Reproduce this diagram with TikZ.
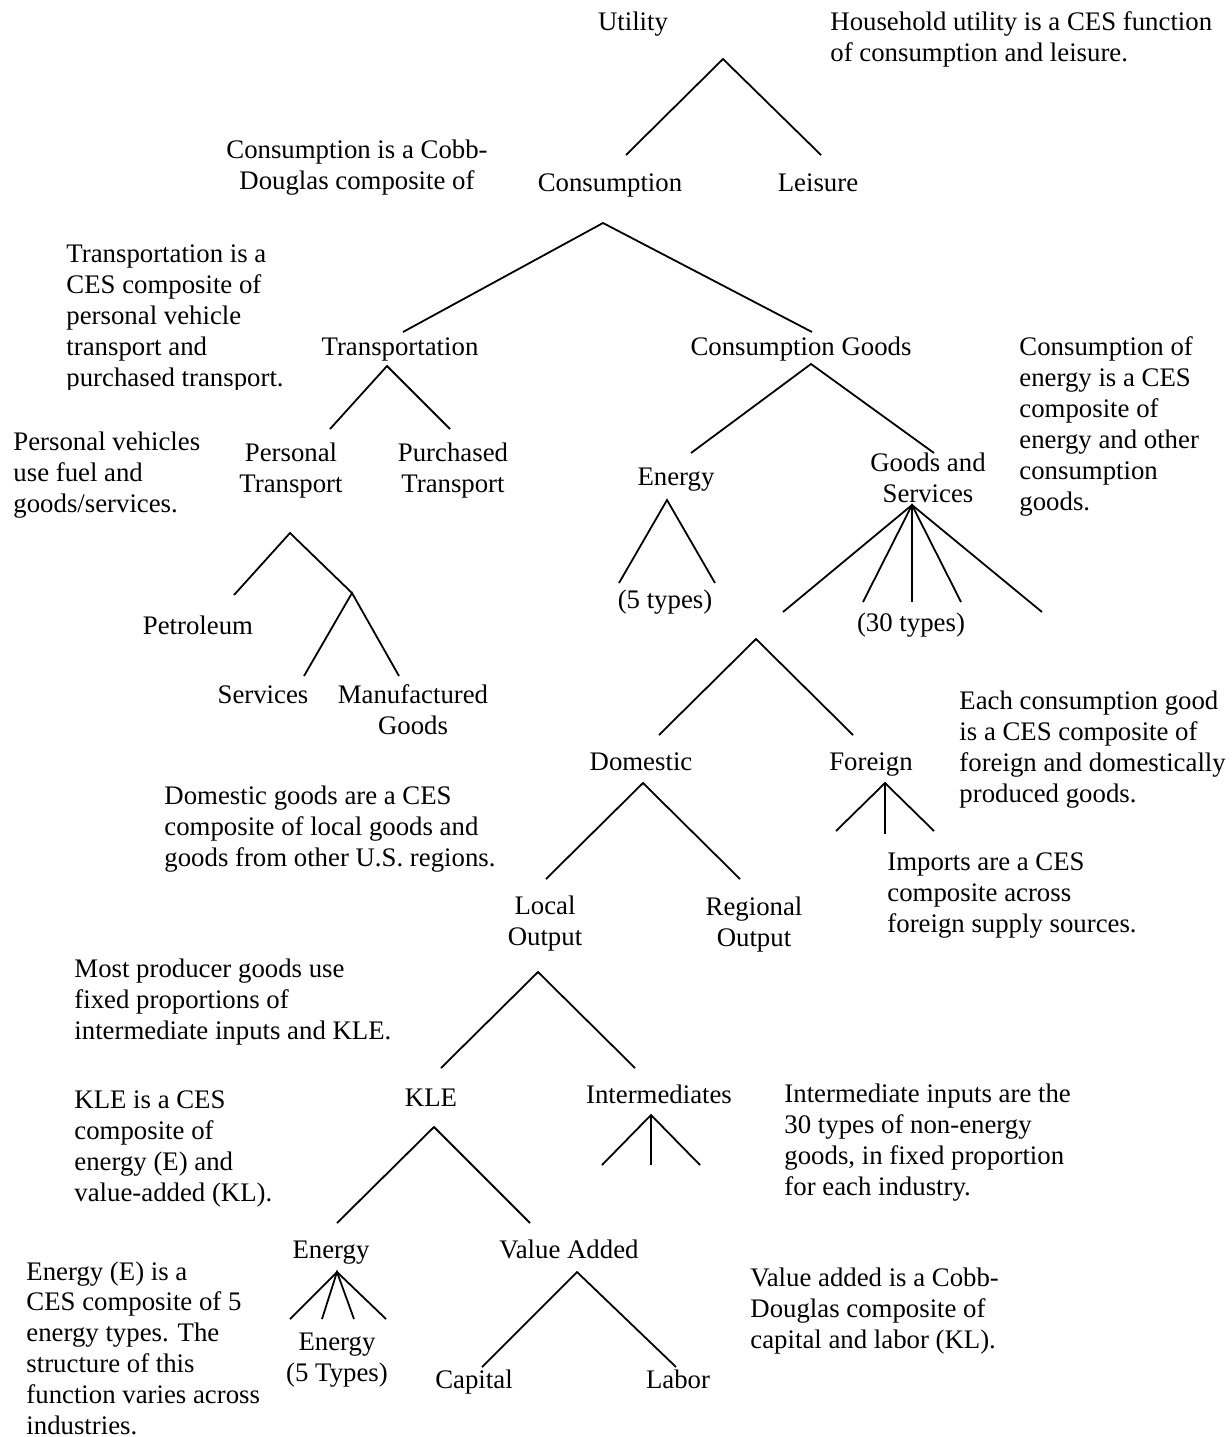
\documentclass[tikz,border=0pt]{standalone}
\usepackage{fontspec}
\setmainfont{Liberation Serif}

\begin{document}
\begin{tikzpicture}[x=0.448pt,y=-0.448pt,
	every node/.style={inner sep=0pt,font=\fontsize{12}{13.8}\selectfont},
	lbl/.style={anchor=base,align=center},
	note/.style={anchor=base west,align=left},
	branch/.style={line width=0.8pt}]
			\useasboundingbox (0,0) rectangle (1231,1437);

			% tree labels (multi-line ones sit on their last line)
			\node[lbl] (utility) at (633,30) {Utility};
			\node[lbl] (consumption) at (610,191) {Consumption};
			\node[lbl] (leisure) at (818,191) {Leisure};
			\node[lbl] (transport) at (400,355) {Transportation};
			\node[lbl] (consgoods) at (801,355) {Consumption Goods};
			\node[lbl] (personal) at (291,492) {Personal\\Transport};
			\node[lbl] (purchased) at (453,492) {Purchased\\Transport};
			\node[lbl] (energy) at (676,485) {Energy};
			\node[lbl] (goodsserv) at (928,502) {Goods and\\Services};
			\node[lbl] (fivetypes) at (665,608) {(5 types)};
			\node[lbl] (thirtytypes) at (911,631) {(30 types)};
			\node[lbl] (petroleum) at (198,634) {Petroleum};
			\node[lbl] (services) at (263,703) {Services};
			\node[lbl] (manufact) at (413,734) {Manufactured\\Goods};
			\node[lbl] (domestic) at (641,770) {Domestic};
			\node[lbl] (foreign) at (871,770) {Foreign};
			\node[lbl] (local) at (545,945) {Local\\Output};
			\node[lbl] (regional) at (754,946) {Regional\\Output};
			\node[lbl] (kle) at (431,1106) {KLE};
			\node[lbl] (intermed) at (659,1103) {Intermediates};
			\node[lbl] (energyb) at (331,1258) {Energy};
			\node[lbl] (valadd) at (569,1258) {Value Added};
			\node[lbl] (energytypes) at (337,1381) {Energy\\(5 Types)};
			\node[lbl] (capital) at (474,1388) {Capital};
			\node[lbl] (labor) at (678,1388) {Labor};

			% notes
			\node[note] (utilnote) at (830,61) {Household utility is a CES function\\of consumption and leisure.};
			\node[lbl] (consnote) at (357,189) {Consumption is a Cobb-\\Douglas composite of};
			\begin{scope}
				\clip (0,0) rectangle (400,389);
				\node[note] (transnote) at (66,386) {Transportation is a\\CES composite of\\personal vehicle\\transport and\\purchased transport.};
			\end{scope}
			\node[note] (vehnote) at (13,512) {Personal vehicles\\use fuel and\\goods/services.};
			\node[note] (energynote) at (1019,510) {Consumption of\\energy is a CES\\composite of\\energy and other\\consumption\\goods.};
			\node[note] (goodnote) at (959,802) {Each consumption good\\is a CES composite of\\foreign and domestically\\produced goods.};
			\node[note] (domnote) at (164,866) {Domestic goods are a CES\\composite of local goods and\\goods from other U.S. regions.};
			\node[note] (importnote) at (887,932) {Imports are a CES\\composite across\\foreign supply sources.};
			\node[note] (prodnote) at (74,1039) {Most producer goods use\\fixed proportions of\\intermediate inputs and KLE.};
			\node[note] (klenote) at (74,1201) {KLE is a CES\\composite of\\energy (E) and\\value-added (KL).};
			\node[note] (intnote) at (784,1195) {Intermediate inputs are the\\30 types of non-energy\\goods, in fixed proportion\\for each industry.};
			\node[note] (enote) at (26,1434) {Energy (E) is a\\CES composite of 5\\energy types. The\\structure of this\\function varies across\\industries.};
			\node[note] (vanote) at (750,1348) {Value added is a Cobb-\\Douglas composite of\\capital and labor (KL).};

			% forks
			\coordinate (utilfork) at (723,59);
			\coordinate (consfork) at (603,223);
			\coordinate (transfork) at (387,366);
			\coordinate (goodsfork) at (811,364);
			\coordinate (persfork) at (290,533);
			\coordinate (nonfuelfork) at (352,593);
			\coordinate (energyfork) at (667,500);
			\coordinate (servfork) at (912,505);
			\coordinate (tradefork) at (756,639);
			\coordinate (foreignfork) at (885,783);
			\coordinate (domfork) at (643,783);
			\coordinate (localfork) at (538,972);
			\coordinate (intfork) at (651,1115);
			\coordinate (klefork) at (434,1127);
			\coordinate (efork) at (337,1272);
			\coordinate (vafork) at (577,1272);

			% branch ends
			\coordinate (consumption-in) at (626,155);
			\coordinate (leisure-in) at (821,155);
			\coordinate (transport-in) at (403,332);
			\coordinate (consgoods-in) at (812,332);
			\coordinate (personal-in) at (330,429);
			\coordinate (purchased-in) at (450,429);
			\coordinate (energy-in) at (691,453);
			\coordinate (goodsserv-in) at (934,453);
			\coordinate (petroleum-in) at (234,595);
			\coordinate (services-in) at (304,676);
			\coordinate (manufact-in) at (399,676);
			\coordinate (five-a) at (619,583);
			\coordinate (five-b) at (715,583);
			\coordinate (thirty-a) at (783,612);
			\coordinate (thirty-b) at (863,602);
			\coordinate (thirty-c) at (912,602);
			\coordinate (thirty-d) at (961,602);
			\coordinate (thirty-e) at (1042,612);
			\coordinate (domestic-in) at (659,735);
			\coordinate (foreign-in) at (853,735);
			\coordinate (import-a) at (836,831);
			\coordinate (import-b) at (885,834);
			\coordinate (import-c) at (934,831);
			\coordinate (local-in) at (546,879);
			\coordinate (regional-in) at (740,879);
			\coordinate (kle-in) at (441,1068);
			\coordinate (intermed-in) at (635,1068);
			\coordinate (inter-a) at (602,1165);
			\coordinate (inter-b) at (651,1165);
			\coordinate (inter-c) at (700,1165);
			\coordinate (energyb-in) at (337,1223);
			\coordinate (valadd-in) at (530,1223);
			\coordinate (etype-a) at (290,1319);
			\coordinate (etype-b) at (322,1319);
			\coordinate (etype-c) at (354,1319);
			\coordinate (etype-d) at (386,1319);
			\coordinate (capital-in) at (482,1367);
			\coordinate (labor-in) at (676,1367);

			% branches
			\draw[branch] (consumption-in) -- (utilfork) -- (leisure-in);
			\draw[branch] (transport-in) -- (consfork) -- (consgoods-in);
			\draw[branch] (personal-in) -- (transfork) -- (purchased-in);
			\draw[branch] (energy-in) -- (goodsfork) -- (goodsserv-in);
			\draw[branch] (petroleum-in) -- (persfork) -- (nonfuelfork);
			\draw[branch] (services-in) -- (nonfuelfork) -- (manufact-in);
			\draw[branch] (five-a) -- (energyfork) -- (five-b);
			\draw[branch] (thirty-a) -- (servfork) -- (thirty-e);
			\draw[branch] (thirty-b) -- (servfork) -- (thirty-d);
			\draw[branch] (servfork) -- (thirty-c);
			\draw[branch] (domestic-in) -- (tradefork) -- (foreign-in);
			\draw[branch] (import-a) -- (foreignfork) -- (import-c);
			\draw[branch] (foreignfork) -- (import-b);
			\draw[branch] (local-in) -- (domfork) -- (regional-in);
			\draw[branch] (kle-in) -- (localfork) -- (intermed-in);
			\draw[branch] (inter-a) -- (intfork) -- (inter-c);
			\draw[branch] (intfork) -- (inter-b);
			\draw[branch] (energyb-in) -- (klefork) -- (valadd-in);
			\draw[branch] (etype-a) -- (efork) -- (etype-d);
			\draw[branch] (etype-b) -- (efork) -- (etype-c);
			\draw[branch] (capital-in) -- (vafork) -- (labor-in);

\end{tikzpicture}
\end{document}
